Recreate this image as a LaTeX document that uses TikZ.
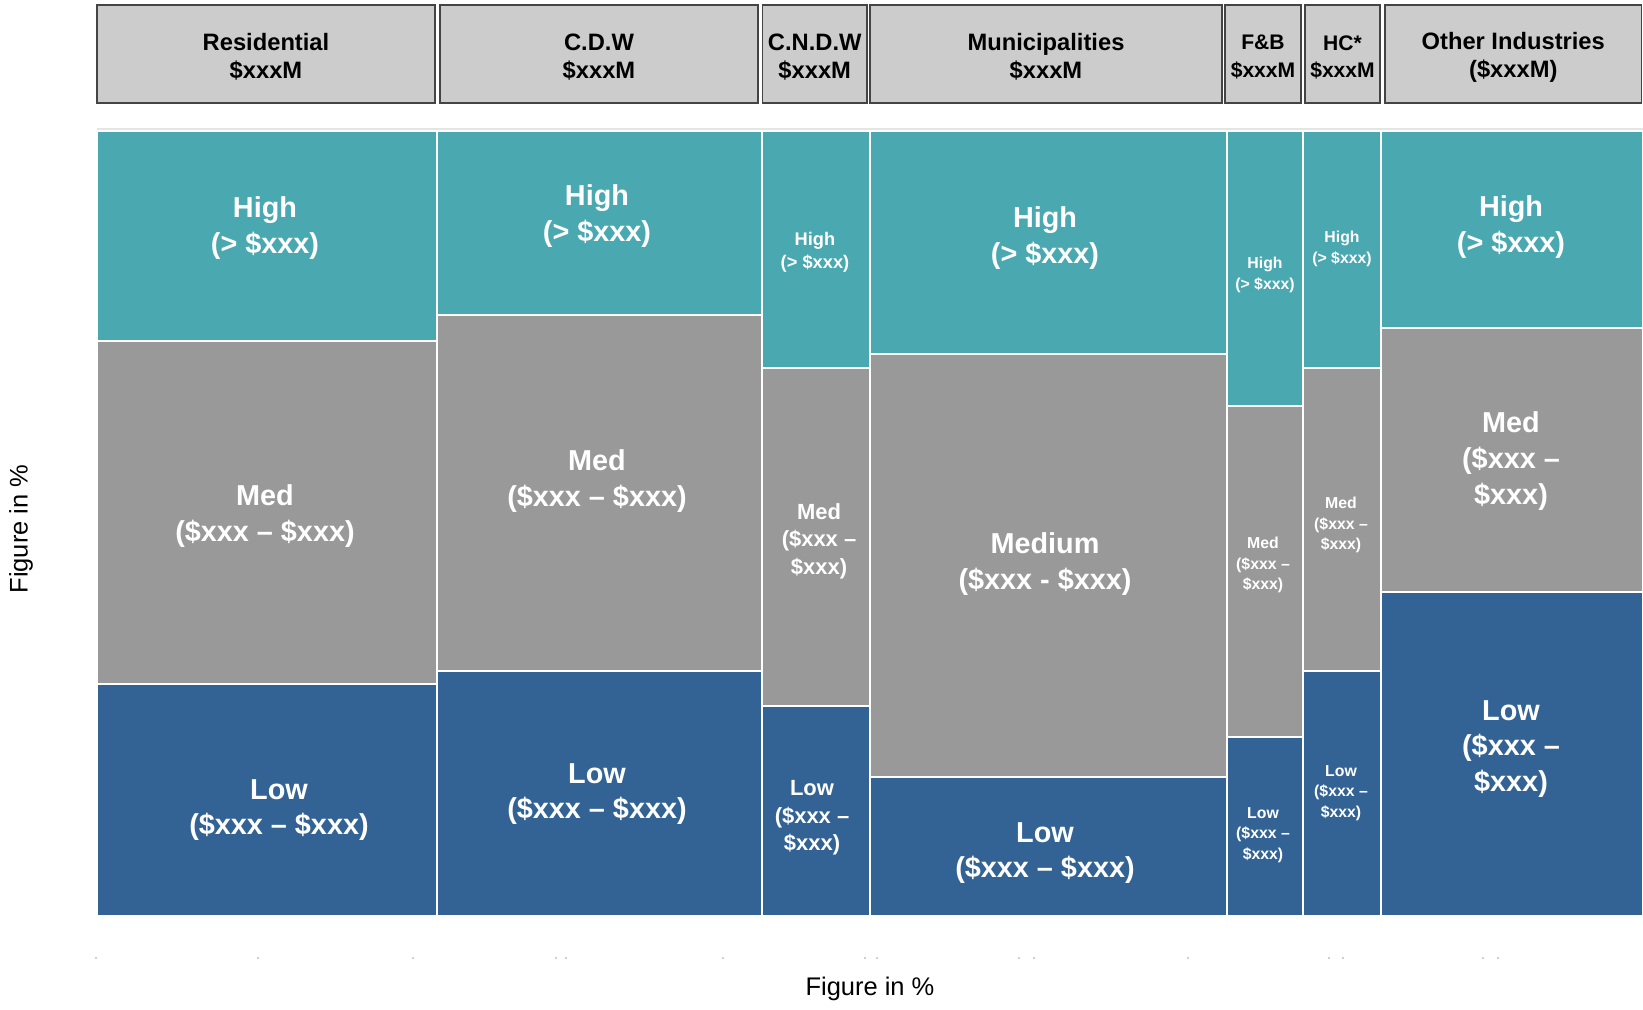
\documentclass[tikz,border=0pt]{standalone}
\usepackage{fontspec}
\setmainfont{Liberation Sans}
\definecolor{hicol}{HTML}{49A8B0}
\definecolor{medcol}{HTML}{999999}
\definecolor{locol}{HTML}{336394}
\definecolor{hdrfill}{HTML}{CCCCCC}
\definecolor{hdrline}{HTML}{444444}

\begin{document}
\begin{tikzpicture}[x=0.02cm,y=-0.02cm,
    hdr/.style={fill=hdrfill,draw=hdrline,line width=0.7pt},
    hdrtxt/.style={align=center,inner sep=0pt,font=\bfseries\fontsize{13.5}{15.9}\selectfont},
    hdrnarrow/.style={align=center,inner sep=0pt,font=\bfseries\fontsize{12}{15.4}\selectfont},
    hi/.style={fill=hicol,draw=white,line width=1.1pt},
    md/.style={fill=medcol,draw=white,line width=1.1pt},
    lo/.style={fill=locol,draw=white,line width=1.1pt},
    bigtxt/.style={align=center,inner sep=0pt,text=white,font=\bfseries\fontsize{16.4}{20.4}\selectfont},
    midtxt/.style={align=center,inner sep=0pt,text=white,font=\bfseries\fontsize{12.5}{15.6}\selectfont},
    smltxt/.style={align=center,inner sep=0pt,text=white,font=\bfseries\fontsize{10.4}{13}\selectfont},
    tintxt/.style={align=center,inner sep=0pt,text=white,font=\bfseries\fontsize{9}{11.5}\selectfont},
    axtxt/.style={inner sep=0pt,font=\fontsize{14.5}{17}\selectfont}]
    \useasboundingbox (0,0) rectangle (1643,1009);

    \foreach \a/\b/\n/\s/\t in {97/435/tRes/hdrtxt/{Residential\\\$xxxM},440/758/tCdw/hdrtxt/{C.D.W\\\$xxxM},
        762.5/867/tCndw/hdrtxt/{C.N.D.W\\\$xxxM},870/1222/tMun/hdrtxt/{Municipalities\\\$xxxM},
        1225/1301/tFb/hdrnarrow/{F\&B\\\$xxxM},1305/1380/tHc/hdrnarrow/{HC*\\\$xxxM},
        1385/1641.5/tOth/hdrtxt/{Other Industries\\(\$xxxM)}}{
        \draw[hdr] (\a,5) rectangle (\b,103);
        \node[\s] (\n) at ({(\a+\b)/2},57) {\t};
    }

    \draw[draw=black!10,line width=0.6pt] (97,129) -- (1643,129);
    \foreach \a/\b/\p/\q in {97/437/341/684,437/762/315/671,762/870/368/706,870/1227/354/777,
        1227/1303/406/737,1303/1381/368/671,1381/1643/328/592}{
        \filldraw[hi] (\a,131) rectangle (\b,\p);
        \filldraw[md] (\a,\p) rectangle (\b,\q);
        \filldraw[lo] (\a,\q) rectangle (\b,916);
    }

    \node[bigtxt] (hRes) at (265,228) {High\\(> \$xxx)};
    \node[bigtxt] (mRes) at (265,516) {Med\\(\$xxx – \$xxx)};
    \node[bigtxt] (lRes) at (279,810) {Low\\(\$xxx – \$xxx)};
    \node[bigtxt] (hCdw) at (597,216) {High\\(> \$xxx)};
    \node[bigtxt] (mCdw) at (597,481) {Med\\(\$xxx – \$xxx)};
    \node[bigtxt] (lCdw) at (597,794) {Low\\(\$xxx – \$xxx)};
    \node[smltxt] (hCndw) at (815,252) {High\\(> \$xxx)};
    \node[midtxt] (mCndw) at (819,541) {Med\\(\$xxx –\\\$xxx)};
    \node[midtxt] (lCndw) at (812,818) {Low\\(\$xxx –\\\$xxx)};
    \node[bigtxt] (hMun) at (1045,238) {High\\(> \$xxx)};
    \node[bigtxt] (mMun) at (1045,564) {Medium\\(\$xxx - \$xxx)};
    \node[bigtxt] (lMun) at (1045,853) {Low\\(\$xxx – \$xxx)};
    \node[tintxt] (hFb) at (1265,275) {High\\(> \$xxx)};
    \node[tintxt] (mFb) at (1263,565) {Med\\(\$xxx –\\\$xxx)};
    \node[tintxt] (lFb) at (1263,835) {Low\\(\$xxx –\\\$xxx)};
    \node[tintxt] (hHc) at (1342,249) {High\\(> \$xxx)};
    \node[tintxt] (mHc) at (1341,525) {Med\\(\$xxx –\\\$xxx)};
    \node[tintxt] (lHc) at (1341,793) {Low\\(\$xxx –\\\$xxx)};
    \node[bigtxt] (hOth) at (1511,227) {High\\(> \$xxx)};
    \node[bigtxt] (mOth) at (1511,461) {Med\\(\$xxx –\\\$xxx)};
    \node[bigtxt] (lOth) at (1511,749) {Low\\(\$xxx –\\\$xxx)};

    \foreach \x in {96,258,413,556,566,723,865,877,1019,1034,1188,1329,1343,1483,1498}
        \fill[black!25] (\x,958) circle (0.6pt);
    \node[axtxt] (xlab) at (870,989) {Figure in \%};
    \node[axtxt,rotate=90] (ylab) at (21,529) {Figure in \%};
\end{tikzpicture}
\end{document}
